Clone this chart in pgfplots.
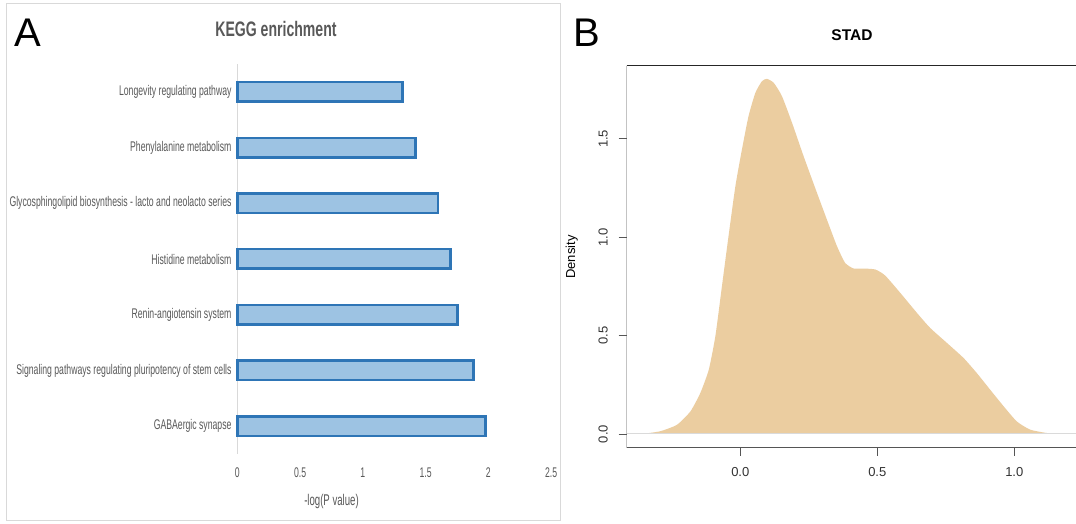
\documentclass[border=0pt]{standalone}
\usepackage{fontspec}
\setmainfont{Liberation Sans}
\newfontfamily\narrowfont[FakeStretch=0.62]{Liberation Sans}
\newfontfamily\narrowtitle[FakeStretch=0.67]{Liberation Sans}
\usepackage{pgfplots}
\pgfplotsset{compat=1.18}
\definecolor{barfill}{RGB}{157,195,227}
\definecolor{baredge}{RGB}{46,117,182}
\definecolor{txtgray}{RGB}{89,89,89}
\definecolor{dens}{RGB}{235,205,160}
\definecolor{framegray}{RGB}{217,217,217}
\definecolor{ticktext}{RGB}{51,51,51}
\definecolor{boxgray}{RGB}{85,85,85}
\definecolor{baseline}{RGB}{218,218,218}
\begin{document}
\begin{tikzpicture}
\useasboundingbox (0pt,0pt) rectangle (1076pt,524pt);
\fill[white] (0pt,0pt) rectangle (1076pt,524pt);
% ---------------- Panel A ----------------
\draw[framegray, line width=1pt] (6.5pt,3.5pt) rectangle (560.5pt,520pt);
\node[anchor=base west, inner sep=0pt, font=\fontsize{40}{40}\selectfont] at (14pt,477pt) {A};
\node[anchor=base, inner sep=0pt, text=txtgray, font=\fontsize{21}{21}\selectfont\narrowtitle\bfseries] at (276pt,487.3pt) {KEGG enrichment};
\node[anchor=center, inner sep=0pt, text=txtgray, font=\fontsize{15.5}{15.5}\selectfont\narrowfont] at (331.5pt,22.5pt) {-log(P value)};
\begin{axis}[at={(237.3pt,70pt)}, anchor=south west, scale only axis,
  width=313.75pt, height=390pt,
  xmin=0, xmax=2.5, ymin=-0.5, ymax=6.5,
  xbar, bar width=19.5pt,
  axis line style={draw=none},
  xtick={0,0.5,1,1.5,2,2.5}, ytick={0,1,2,3,4,5,6},
  yticklabels={GABAergic synapse, Signaling pathways regulating pluripotency of stem cells, Renin-angiotensin system, Histidine metabolism, Glycosphingolipid biosynthesis - lacto and neolacto series, Phenylalanine metabolism, Longevity regulating pathway},
  major tick length=0pt,
  /pgf/number format/assume math mode=true,
  ticklabel style={font=\fontsize{14}{14}\selectfont\narrowfont, text=txtgray, inner sep=0pt},
  yticklabel style={anchor=east, xshift=-5.6pt},
  xticklabel style={anchor=base, yshift=-24pt},
  clip=false,
]
\draw[framegray, line width=1pt] (axis cs:0,-0.5) -- (axis cs:0,6.5);
\addplot[fill=barfill, draw=baredge, line width=2.5pt] coordinates {
  (1.977,0) (1.884,1) (1.754,2) (1.698,3) (1.600,4) (1.420,5) (1.318,6)};
\end{axis}
% ---------------- Panel B ----------------
\node[anchor=base west, inner sep=0pt, font=\fontsize{40}{40}\selectfont] at (573pt,477pt) {B};
\node[anchor=base, inner sep=0pt, font=\fontsize{15.5}{15.5}\selectfont\bfseries] at (852pt,483.3pt) {STAD};
\node[rotate=90, inner sep=0pt, font=\fontsize{13}{13}\selectfont] at (571.7pt,267pt) {Density};
\begin{axis}[at={(626.7pt,76pt)}, anchor=south west, scale only axis,
  width=450.6pt, height=382.3pt,
  xmin=-0.4146, xmax=1.23, ymin=-0.0712, ymax=1.872,
  axis line style={draw=none},
  xtick={0,0.5,1}, ytick={0,0.5,1,1.5},
  xtick pos=bottom, ytick pos=left,
  tick align=outside, major tick length=8pt,
  tick style={color=boxgray, line width=0.9pt},
  /pgf/number format/fixed, /pgf/number format/fixed zerofill,
  /pgf/number format/precision=1,
  /pgf/number format/assume math mode=true,
  ticklabel style={font=\fontsize{13}{13}\selectfont, text=ticktext, inner sep=0pt},
  xticklabel style={anchor=base, yshift=-20.3pt},
  yticklabel style={xshift=-11pt, rotate=90, anchor=base},
]
\addplot[fill=dens, draw=none, smooth, tension=0.35] coordinates {
(-0.359,0.000) (-0.292,0.014) (-0.231,0.047) (-0.182,0.115) (-0.146,0.208)
(-0.115,0.327) (-0.091,0.497) (-0.067,0.751) (-0.043,1.005) (-0.018,1.259)
(0.006,1.446) (0.030,1.615) (0.055,1.734) (0.079,1.793) (0.097,1.805)
(0.122,1.785) (0.152,1.717) (0.189,1.581) (0.231,1.412) (0.280,1.225)
(0.316,1.090) (0.353,0.954) (0.383,0.869) (0.414,0.841) (0.450,0.841)
(0.493,0.836) (0.529,0.805) (0.584,0.717) (0.645,0.615) (0.693,0.539)
(0.754,0.463) (0.815,0.386) (0.863,0.310) (0.912,0.225) (0.961,0.141)
(1.009,0.064) (1.058,0.022) (1.119,0.005) (1.174,0.000)} \closedcycle;
\addplot[draw=baseline, line width=1pt] coordinates {(-0.4146,0) (1.23,0)};
\draw[boxgray, line width=1pt] (rel axis cs:0,1) -- (rel axis cs:0,0) -- (rel axis cs:1,0);
\draw[black!85, line width=1pt] (rel axis cs:0,1) -- (rel axis cs:1,1);
\end{axis}
\end{tikzpicture}
\end{document}
